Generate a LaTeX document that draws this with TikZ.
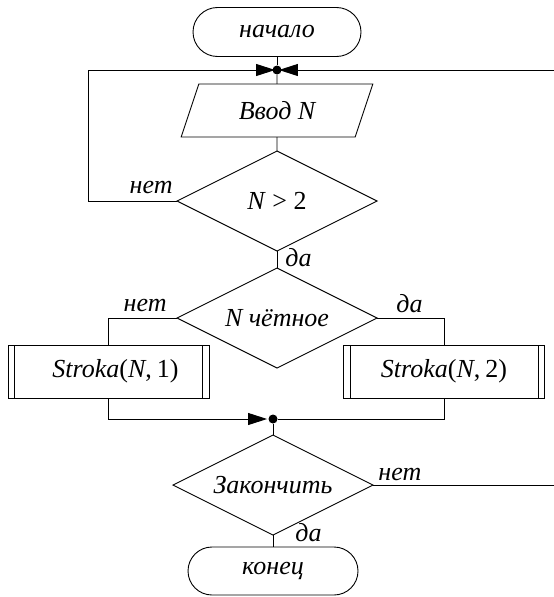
\documentclass[tikz,border=0pt]{standalone}
\usepackage{fontspec}
\setmainfont{Liberation Serif}
\usetikzlibrary{shapes.geometric,arrows.meta}

\newcommand{\chartfont}{\fontsize{26}{30}\selectfont\itshape}
% text set without size, so the diamond keeps its given size
\newcommand{\nosizetext}[1]{\smash{\raisebox{-0.33em}{\makebox[0pt]{#1}}}}

\tikzset{
  base/.style={draw, inner sep=0pt, outer sep=0pt, font=\chartfont},
  term/.style={base, rectangle, rounded corners=24.5pt, minimum width=168pt, minimum height=49pt},
  io/.style={base, trapezium, trapezium left angle=64.7, trapezium right angle=115.3,
    trapezium stretches=true, minimum width=193pt, minimum height=53pt},
  cond/.style={base, diamond, minimum width=200pt, minimum height=100pt},
  proc/.style={base, rectangle, minimum width=201pt, minimum height=53pt},
  lbl/.style={inner sep=0pt, font=\chartfont},
  dot/.style={circle, fill, inner sep=0pt, minimum size=9pt},
  flow/.style={-{Triangle[length=19pt,width=12pt]}},
}

\begin{document}
\begin{tikzpicture}[x=1pt, y=-1pt, line width=0.9pt]
\useasboundingbox (0,0) rectangle (554,597);

% blocks
\node[term] (start) at (277,32) {начало};
\node[dot] (j1) at (277,70) {};
\node[io] (in) at (277,110.5) {Ввод N};
\node[cond] (c1) at (277,201) {\nosizetext{N \textup{> 2}}};
\node[cond] (c2) at (277,318) {\nosizetext{N чётное}};
\node[proc] (p1) at (108.5,371.5) {\hspace*{14pt}Stroka\textup{(}N\textup{,\kern5pt 1)}};
\node[proc] (p2) at (444,371.5) {Stroka\textup{(}N\textup{,\kern5pt 2)}};
\node[dot] (j2) at (273,419) {};
\node[cond] (c3) at (273,485) {\nosizetext{Закончить}};
\node[term, minimum width=170pt, minimum height=48pt, rounded corners=24pt] (stop) at (273,571) {конец};

% inner side lines of the predefined processes
\foreach \n in {p1,p2} {
  \draw ([xshift=6.5pt]\n.north west) -- ([xshift=6.5pt]\n.south west);
  \draw ([xshift=-6.5pt]\n.north east) -- ([xshift=-6.5pt]\n.south east);
}

% free ends of the loops
\coordinate (l1) at (88,201);
\coordinate (l2) at (88,70);
\coordinate (r1) at (554,70);
\coordinate (r2) at (554,485);

% connectors
\draw (start) -- (j1);
\draw (j1) -- (in);
\draw (in) -- (c1);
\draw[flow, shorten >=-3pt] (c1.west) -- (l1) -- (l2) -- (j1);
\draw[flow, shorten >=-3pt] (r1) -- (j1);
\draw (c1) -- (c2);
\draw (c2.west) -| (p1.north);
\draw (c2.east) -| (p2.north);
\draw[flow, shorten >=1pt] (p1.south) |- (j2);
\draw (p2.south) |- (j2);
\draw (j2) -- (c3);
\draw (c3.east) -- (r2);
\draw (c3) -- (stop);

% branch labels
\node[lbl, anchor=base east] (n1) at (173,193) {нет};
\node[lbl, anchor=base west] (y1) at (285,266) {да};
\node[lbl, anchor=base east] (n2) at (167,311) {нет};
\node[lbl, anchor=base west] (y2) at (396,312) {да};
\node[lbl, anchor=base west] (n3) at (378,480) {нет};
\node[lbl, anchor=base west] (y3) at (295,541) {да};
\end{tikzpicture}
\end{document}
